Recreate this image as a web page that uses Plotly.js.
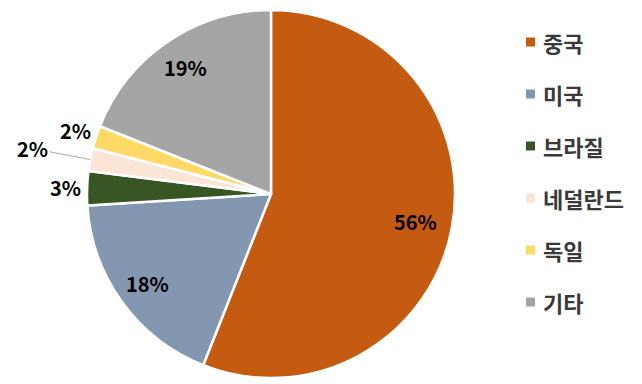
<!DOCTYPE html>
<html>
<head>
<meta charset="utf-8">
<script src="https://cdn.plot.ly/plotly-3.0.1.min.js"></script>
<style>html,body{margin:0;padding:0;background:#fff;}#chart{width:642px;height:384px;}</style>
</head>
<body>
<div id="chart"></div>
<script>
const categories = ['중국', '미국', '브라질', '네덜란드', '독일', '기타'];
const shares = [56, 18, 3, 2, 2, 19];
const labelsText = ['56%', '18%', '3%', '2%', '2%', '19%'];
const colors = ['#C55A11', '#8497B0', '#375623', '#FBE5D6', '#FFD966', '#A5A5A5'];

const W = 642, H = 384;
const cx = 271, cy = 194, R = 184;
const labelRadius = [0.80, 0.83, 1.12, 1.32, 1.12, 0.83];
const leader = [false, false, false, true, false, false];

const total = shares.reduce((a, b) => a + b, 0);
const annotations = [];
let cum = 0;
shares.forEach((v, i) => {
  const mid = (cum + v / 2) / total * 2 * Math.PI;
  cum += v;
  const r = labelRadius[i] * R;
  const px = cx + r * Math.sin(mid);
  const py = cy - r * Math.cos(mid);
  const font = {family: '"Noto Sans CJK KR", "Noto Sans", sans-serif', size: 20, color: '#000000', weight: 'bold'};
  if (leader[i]) {
    const ex = cx + R * Math.sin(mid);
    const ey = cy - R * Math.cos(mid);
    annotations.push({
      xref: 'paper', yref: 'paper', x: ex / W, y: 1 - ey / H,
      ax: px - ex, ay: py - ey, axref: 'pixel', ayref: 'pixel',
      text: '<b>' + labelsText[i] + '</b>', showarrow: true, arrowhead: 0,
      arrowwidth: 1, arrowcolor: '#A6A6A6', standoff: 0, startstandoff: 0, font: font
    });
  } else {
    annotations.push({
      xref: 'paper', yref: 'paper', x: px / W, y: 1 - py / H,
      xanchor: 'center', yanchor: 'middle',
      text: '<b>' + labelsText[i] + '</b>', showarrow: false, font: font
    });
  }
});

// manual legend
const legendX = 526, legendY0 = 42, legendGap = 52, box = 9;
const shapes = [];
categories.forEach((c, i) => {
  const y = legendY0 + i * legendGap;
  shapes.push({
    type: 'rect', xref: 'paper', yref: 'paper',
    x0: legendX / W, x1: (legendX + box) / W,
    y0: 1 - (y + box / 2) / H, y1: 1 - (y - box / 2) / H,
    fillcolor: colors[i], line: {width: 0}
  });
  annotations.push({
    xref: 'paper', yref: 'paper', x: (legendX + box + 6) / W, y: 1 - y / H,
    xanchor: 'left', yanchor: 'middle', showarrow: false,
    text: '<b>' + c + '</b>',
    font: {family: '"Noto Sans CJK KR", sans-serif', size: 22, color: '#3A3A3A', weight: 'bold'}
  });
});

const data = [{
  type: 'pie',
  labels: categories,
  values: shares,
  sort: false,
  direction: 'clockwise',
  rotation: 0,
  textinfo: 'none',
  hoverinfo: 'label+percent',
  marker: {colors: colors, line: {color: '#FFFFFF', width: 2.5}},
  domain: {x: [(cx - R) / W, (cx + R) / W], y: [1 - (cy + R) / H, 1 - (cy - R) / H]},
  showlegend: false
}];

const layout = {
  width: W, height: H,
  margin: {l: 0, r: 0, t: 0, b: 0},
  paper_bgcolor: '#FFFFFF',
  showlegend: false,
  annotations: annotations,
  shapes: shapes
};

Plotly.newPlot('chart', data, layout, {displayModeBar: false, staticPlot: true});
</script>
</body>
</html>
